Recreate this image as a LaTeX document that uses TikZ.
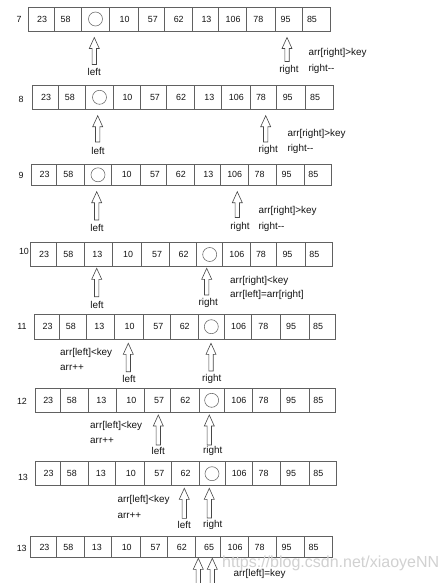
\documentclass[tikz,border=0pt]{standalone}
\usepackage{fontspec}
\setmainfont{Liberation Sans}
\tikzset{
  cell/.style={draw=black!62, line width=0.6pt, inner sep=0pt, outer sep=0pt},
  val/.style={font=\fontsize{8.9}{10}\selectfont, text=black!92, inner sep=0pt},
  hole/.style={draw=black!60, circle, minimum size=14pt, inner sep=0pt, line width=0.55pt},
  idx/.style={font=\fontsize{8.9}{10}\selectfont, text=black!92, inner sep=0pt},
  lbl/.style={font=\fontsize{9.9}{11}\selectfont, text=black!92, inner sep=0pt},
  note/.style={font=\fontsize{9.9}{11}\selectfont, text=black!92, inner sep=0pt, anchor=west},
  barrow/.style={draw=black!72, fill=white, line width=0.6pt, line join=miter},
  wmark/.style={font=\fontsize{16}{18}\selectfont, text=black!18, inner sep=0pt, anchor=west},
}
% #1 name, #2 y centre, #3 height, #4 12 boundaries, #5 11 values
\newcommand\qsrow[5]{%
  \foreach \v [count=\i] in {#5} {
    \pgfmathsetmacro\qxl{{#4}[\i-1]}
    \pgfmathsetmacro\qxr{{#4}[\i]}
    \pgfmathsetmacro\qfr{{0.53,0.42,0.46,0.53,0.56,0.52,0.55,0.52,0.41,0.38,0.34}[\i-1]}
    \pgfmathsetmacro\qcw{\qxr-\qxl}
    \node[cell, minimum width=\qcw pt, minimum height=#3pt] (#1-\i) at ({(\qxl+\qxr)/2},#2) {};
    \node[val] (#1-v\i) at ({\qxl+\qfr*\qcw},#2) {\v};
  }
}
% block arrow pointing up: x, y of tip, y of bottom
\newcommand\blockup[3]{%
  \draw[barrow] (#1,#2) -- (#1+5,#2+11) -- (#1+2.2,#2+11) -- (#1+2.2,#3)
    -- (#1-2.2,#3) -- (#1-2.2,#2+11) -- (#1-5,#2+11) -- cycle;
}
\begin{document}
\begin{tikzpicture}[x=1pt,y=-1pt]
\useasboundingbox[fill=white] (0,0) rectangle (446,583);

% ---- row 7
\qsrow{ra}{19}{24}{28.7,54,81.7,109.3,138.3,164.3,192,218.3,246.7,275,302.7,330}{23,58,,10,57,62,13,106,78,95,85}
\node[hole] (ra-o) at (ra-3) {};
\node[idx] (ra-n) at (19,19) {7};
\blockup{94.3}{37.5}{64.5}
\node[lbl] (ra-l) at (94.3,72) {left};
\blockup{287}{37.5}{61.5}
\node[lbl] (ra-r) at (289,69.5) {right};
\node[note] (ra-t1) at (308.3,53) {arr[right]>key};
\node[note] (ra-t2) at (308.3,69) {right-{}-};

% ---- row 8
\qsrow{rb}{97.3}{24}{32.3,58.3,85.7,113.3,140,166.7,194.3,221.7,250,276.7,305.7,333.3}{23,58,,10,57,62,13,106,78,95,85}
\node[hole] (rb-o) at (rb-3) {};
\node[idx] (rb-n) at (21,99) {8};
\blockup{97.7}{115.7}{142}
\node[lbl] (rb-l) at (98,151) {left};
\blockup{265.7}{115.7}{142}
\node[lbl] (rb-r) at (268.3,150) {right};
\node[note] (rb-t1) at (287.3,133.7) {arr[right]>key};
\node[note] (rb-t2) at (287.3,149) {right-{}-};

% ---- row 9
\qsrow{rc}{174.8}{21}{31,56.7,84.3,111.7,140,166.7,194,220,248.3,276,304,331.7}{23,58,,10,57,62,13,106,78,95,85}
\node[hole] (rc-o) at (rc-3) {};
\node[idx] (rc-n) at (21,175) {9};
\blockup{96.7}{191.7}{220}
\node[lbl] (rc-l) at (97,228) {left};
\blockup{237.3}{191.7}{217.5}
\node[lbl] (rc-r) at (240,227) {right};
\node[note] (rc-t1) at (258.3,211) {arr[right]>key};
\node[note] (rc-t2) at (258.3,227) {right-{}-};

% ---- row 10
\qsrow{rd}{254.5}{24}{30,56.7,84.3,112.7,141.7,169.3,196.7,222.7,250,276.7,305,332.3}{23,58,13,10,57,62,,106,78,95,85}
\node[hole] (rd-o) at (rd-7) {};
\node[idx] (rd-n) at (24,251) {10};
\blockup{96.7}{268.3}{296.7}
\node[lbl] (rd-l) at (97,305) {left};
\blockup{206.7}{268.3}{295}
\node[lbl] (rd-r) at (208.3,303) {right};
\node[note] (rd-t1) at (230,280.7) {arr[right]<key};
\node[note] (rd-t2) at (230,295) {arr[left]=arr[right]};

% ---- row 11
\qsrow{re}{326.7}{25}{34.3,59.3,86.7,114.3,143.3,170,198.3,224.3,251.7,280,309,335.7}{23,58,13,10,57,62,,106,78,95,85}
\node[hole] (re-o) at (re-7) {};
\node[idx] (re-n) at (22,326) {11};
\blockup{128.3}{343.3}{371.7}
\node[lbl] (re-l) at (129,379) {left};
\blockup{211}{343.3}{371}
\node[lbl] (re-r) at (211.7,379) {right};
\node[note] (re-t1) at (60,352.7) {arr[left]<key};
\node[note] (re-t2) at (60,367.3) {arr++};

% ---- row 12
\qsrow{rf}{400.3}{24}{35,60,88.3,116.7,144.3,170.7,199,224.3,252.3,280,309.3,335.7}{23,58,13,10,57,62,,106,78,95,85}
\node[hole] (rf-o) at (rf-7) {};
\node[idx] (rf-n) at (22,401) {12};
\blockup{158.3}{415}{445}
\node[lbl] (rf-l) at (158.3,451) {left};
\blockup{209.3}{415}{445}
\node[lbl] (rf-r) at (212.7,451) {right};
\node[note] (rf-t1) at (90,426) {arr[left]<key};
\node[note] (rf-t2) at (90,441) {arr++};

% ---- row 13
\qsrow{rg}{473.7}{24}{35.7,60,88.3,115.7,144.3,171,199,225,252.3,280,309.3,336}{23,58,13,10,57,62,,106,78,95,85}
\node[hole] (rg-o) at (rg-7) {};
\node[idx] (rg-n) at (23,477) {13};
\blockup{184.3}{488.3}{518.3}
\node[lbl] (rg-l) at (184.3,525) {left};
\blockup{209.3}{488.3}{518}
\node[lbl] (rg-r) at (212.7,525) {right};
\node[note] (rg-t1) at (117.3,500) {arr[left]<key};
\node[note] (rg-t2) at (117.3,516) {arr++};

% ---- row 13 (final)
\qsrow{rh}{547}{21}{30.7,56.7,84.3,111.7,140,167.7,195,220.7,248.3,276,304,332.3}{23,58,13,10,57,62,65,106,78,95,85}
\node[idx] (rh-n) at (21.7,548) {13};
\node[wmark] (wm) at (222,563) {https://blog.csdn.net/xiaoyeNN};
\blockup{198.3}{558.3}{584}
\blockup{212.3}{558.3}{584}
\node[note] (rh-t1) at (233.3,574) {arr[left]=key};
\end{tikzpicture}
\end{document}
